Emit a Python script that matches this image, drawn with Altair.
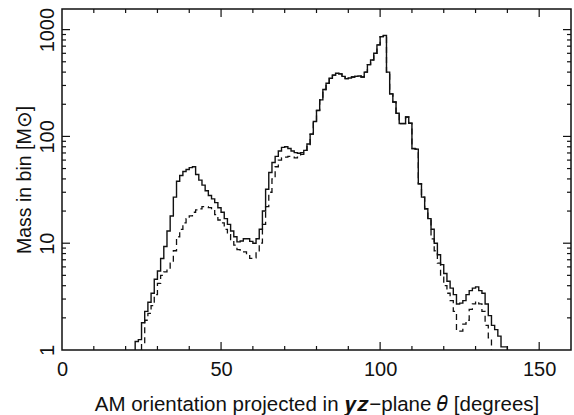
import altair as alt
import pandas as pd

# ---- data (1-degree bins, value = mass in bin) ----
solid_start = 23
solid_vals = [
    1.2, 1.25, 1.8, 2.3, 2.8, 3.4, 4.6, 5.5, 7.2, 9.3,          # 23-32
    13, 18, 27, 38, 43, 47, 49, 51, 52, 44,                     # 33-42
    39, 35, 31, 28, 26, 24, 21.5, 19.5, 17, 15,                 # 43-52
    13, 11.5, 10.3, 10.5, 11, 11, 10.4, 10, 11, 13.5,           # 53-62
    20, 32, 46, 57, 65, 73, 79, 80, 77, 73,                     # 63-72
    70.5, 69.5, 70.5, 74, 85, 105, 138, 175, 220, 275,          # 73-82
    315, 350, 375, 390, 385, 365, 348, 352, 360, 365,           # 83-92
    368, 360, 400, 470, 520, 600, 720, 860, 880, 400,           # 93-102
    250, 210, 165, 132, 132, 152, 133, 77, 76, 36,              # 103-112
    27, 21, 17, 13.5, 10, 7.8, 6.3, 5.2, 4.4, 3.8,              # 113-122
    3.3, 2.7, 2.75, 2.9, 3.3, 3.6, 3.8, 3.9, 3.6, 3.4,          # 123-132
    2.7, 2.1, 1.7, 1.55, 1.35, 1.07, 1.07,                      # 133-139
]

dashed_start = 25
dashed_vals = [
    1.15, 1.9, 2.2, 2.6, 3.3, 4.2, 5.0, 5.4, 5.6, 6.5,          # 25-34
    8.5, 11.5, 13.5, 15.5, 17, 18, 19.5, 20.5, 21, 22,          # 35-44
    22, 21.5, 20.5, 18.5, 16.5, 15.5, 13.5, 12, 10.8, 9.6,      # 45-54
    8.7, 8.3, 8.3, 7.8, 7.2, 7.3, 8.5, 10, 15, 22,              # 55-64
    30, 40, 52, 60, 63, 64, 65, 64, 63, 64,                     # 65-74
    68, 74, 84, 105, 138, 175, 220, 275, 315, 350,              # 75-84
    375, 390, 385, 365, 348, 352, 360, 365, 368, 360,           # 85-94
    400, 470, 520, 600, 720, 860, 880, 400, 250, 210,           # 95-104
    165, 132, 132, 152, 133, 77, 76, 36, 27, 21,                # 105-114
    17, 11, 8.5, 6.5, 4.8, 4.0, 3.4, 2.9, 2.3, 1.5,             # 115-124
    1.5, 1.75, 1.9, 2.4, 2.7, 2.85, 2.7, 2.3, 1.7, 1.3,         # 125-134
]

x_label_values = [0, 50, 100, 150]
x_major_ticks = [50, 100, 150]
x_minor_ticks = [10, 20, 30, 40, 60, 70, 80, 90, 110, 120, 130, 140]
y_label_values = [1, 10, 100, 1000]
y_major_ticks = [10, 100, 1000]
y_minor_ticks = [2, 3, 4, 5, 6, 7, 8, 9,
                 20, 30, 40, 50, 60, 70, 80, 90,
                 200, 300, 400, 500, 600, 700, 800, 900]

X_DOMAIN = [0, 160]
Y_DOMAIN = [1, 1560]
W, H = 509, 341
FONT = "Liberation Sans"
INK = "#111111"


def step_table(start, vals):
    xs = [start]
    ys = [Y_DOMAIN[0]]
    for i, v in enumerate(vals):
        xs.append(start + i)
        ys.append(v)
    end = start + len(vals)
    xs += [end, end]
    ys += [vals[-1], Y_DOMAIN[0]]
    return pd.DataFrame({"theta": xs, "mass": ys, "k": list(range(len(xs)))})


xscale = alt.Scale(domain=X_DOMAIN, nice=False, zero=False)
yscale = alt.Scale(type="log", domain=Y_DOMAIN, nice=False)

x_axis = alt.Axis(
    values=x_label_values, ticks=False, tickSize=0, domain=False, grid=False,
    labelFont=FONT, labelFontSize=20, labelColor=INK, labelBaseline="alphabetic",
    labelPadding=25, labelFlush=False,
    title="AM orientation projected in 𝒚𝒛−plane 𝜃 [degrees]",
    titleFont=FONT, titleFontSize=20.5, titleFontWeight="normal", titleColor=INK,
    titleBaseline="middle", titleX=W / 2, titleY=54, titleAlign="center",
)
y_axis = alt.Axis(
    values=y_label_values, format="d", ticks=False, tickSize=0, domain=False,
    grid=False, labelFont=FONT, labelFontSize=20, labelColor=INK,
    labelAngle=270, labelAlign="center", labelBaseline="alphabetic",
    labelPadding=9, labelFlush=False,
    title="Mass in bin [M⊙]", titleFont=FONT, titleFontSize=19.5,
    titleFontWeight="normal", titleColor=INK, titleAngle=270,
    titleAlign="center", titleBaseline="middle", titleX=-38, titleY=H / 2,
)

solid = alt.Chart(step_table(solid_start, solid_vals)).mark_line(
    interpolate="step-after", color=INK, strokeWidth=1.4, clip=True
).encode(
    x=alt.X("theta:Q", scale=xscale, axis=x_axis),
    y=alt.Y("mass:Q", scale=yscale, axis=y_axis),
    order="k:Q",
)

dashed = alt.Chart(step_table(dashed_start, dashed_vals)).mark_line(
    interpolate="step-after", color=INK, strokeWidth=1.3, strokeDash=[6, 4],
    clip=True
).encode(
    x=alt.X("theta:Q", scale=xscale),
    y=alt.Y("mass:Q", scale=yscale),
    order="k:Q",
)


def xticks(vals, length, top):
    df = pd.DataFrame({"t": vals})
    if top:
        y0, y1 = 0, length
    else:
        y0, y1 = H, H - length
    return alt.Chart(df).mark_rule(color=INK, strokeWidth=1.2).encode(
        x=alt.X("t:Q", scale=xscale), y=alt.value(y0), y2=alt.value(y1)
    )


def yticks(vals, length, right):
    df = pd.DataFrame({"t": vals})
    if right:
        x0, x1 = W, W - length
    else:
        x0, x1 = 0, length
    return alt.Chart(df).mark_rule(color=INK, strokeWidth=1.2).encode(
        y=alt.Y("t:Q", scale=yscale), x=alt.value(x0), x2=alt.value(x1)
    )


ticks = [
    xticks(x_major_ticks, 8, False), xticks(x_minor_ticks, 4, False),
    xticks(x_major_ticks, 8, True), xticks(x_minor_ticks, 4, True),
    yticks(y_major_ticks, 8, False), yticks(y_minor_ticks, 4, False),
    yticks(y_major_ticks, 8, True), yticks(y_minor_ticks, 4, True),
]

chart = alt.layer(solid, dashed, *ticks).properties(
    width=W, height=H,
    autosize=alt.AutoSizeParams(type="none"),
    padding={"left": 62, "top": 9, "right": 3, "bottom": 65},
    background="white",
).configure_view(stroke=INK, strokeWidth=1.5)

chart.save("out.html", embed_options={"renderer": "svg", "actions": False})
